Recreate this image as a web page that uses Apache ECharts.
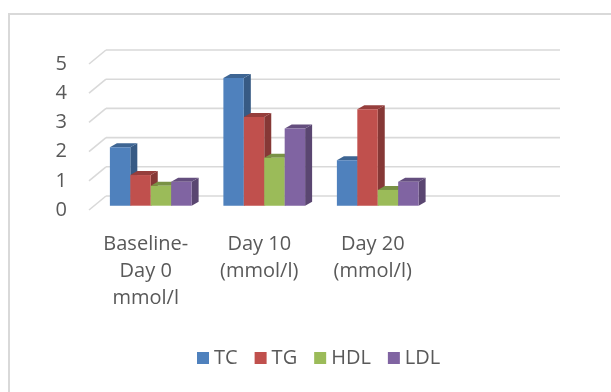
<!DOCTYPE html>
<html>
<head>
<meta charset="utf-8">
<script src="https://cdn.jsdelivr.net/npm/echarts@6/dist/echarts.min.js"></script>
<style>
  html, body { margin: 0; padding: 0; background: #fff; }
  #chart { width: 611px; height: 392px; }
</style>
</head>
<body>
<div id="chart"></div>
<script>
// Lipid profile by visit, mmol/l
const categories = ['Baseline-\nDay 0\nmmol/l', 'Day 10\n(mmol/l)', 'Day 20\n(mmol/l)', ''];
const seriesNames = ['TC', 'TG', 'HDL', 'LDL'];
const tcValues  = [2.0, 4.37, 1.56];
const tgValues  = [1.05, 3.04, 3.30];
const hdlValues = [0.68, 1.64, 0.54];
const ldlValues = [0.82, 2.64, 0.82];
const yTicks = [0, 1, 2, 3, 4, 5];

const seriesValues = [tcValues, tgValues, hdlValues, ldlValues];
const frontColors = ['#4f81bd', '#c0504d', '#9bbb59', '#8064a2'];

// depth of the wall behind the plot and of each column
const WALL_DX = 17, WALL_DY = -14;
const BAR_SHIFT_X = 5, BAR_SHIFT_Y = -4.3;
const BAR_DX = 7, BAR_DY = -4;

function shade(hex, f) {
  const n = parseInt(hex.slice(1), 16);
  const r = Math.round(((n >> 16) & 255) * f);
  const g = Math.round(((n >> 8) & 255) * f);
  const b = Math.round((n & 255) * f);
  return 'rgb(' + r + ',' + g + ',' + b + ')';
}

const chart = echarts.init(document.getElementById('chart'));

// wall grid lines and the slanted lines on the side wall
const wallSeries = {
  type: 'custom',
  silent: true,
  z: 1,
  data: yTicks.map(t => [0, t]),
  renderItem: function (params, api) {
    const cs = params.coordSys;
    const p = api.coord([0, api.value(1)]);
    const y = p[1];
    const style = { stroke: '#d9d9d9', lineWidth: 1.6, fill: null };
    return {
      type: 'group',
      children: [
        { type: 'line', shape: { x1: cs.x, y1: y, x2: cs.x + WALL_DX, y2: y + WALL_DY }, style: style },
        { type: 'line', shape: { x1: cs.x + WALL_DX, y1: y + WALL_DY, x2: cs.x + cs.width + WALL_DX, y2: y + WALL_DY }, style: style }
      ]
    };
  }
};

function barSeries(idx) {
  const color = frontColors[idx];
  return {
    name: seriesNames[idx],
    type: 'custom',
    z: 2,
    itemStyle: { color: color },
    data: seriesValues[idx].map((v, i) => [i, v]),
    renderItem: function (params, api) {
      const cat = api.value(0);
      const val = api.value(1);
      const top = api.coord([cat, val]);
      const base = api.coord([cat, 0]);
      const band = api.size([1, 0])[0];
      const bw = band * 0.18;
      const x0 = top[0] - 2 * bw + idx * bw + BAR_SHIFT_X;
      const yTop = top[1] + BAR_SHIFT_Y;
      const yBase = base[1] + BAR_SHIFT_Y;
      return {
        type: 'group',
        children: [
          {
            type: 'polygon',
            shape: { points: [[x0 + bw, yTop], [x0 + bw + BAR_DX, yTop + BAR_DY], [x0 + bw + BAR_DX, yBase + BAR_DY], [x0 + bw, yBase]] },
            style: { fill: shade(color, 0.7) }
          },
          {
            type: 'polygon',
            shape: { points: [[x0, yTop], [x0 + BAR_DX, yTop + BAR_DY], [x0 + bw + BAR_DX, yTop + BAR_DY], [x0 + bw, yTop]] },
            style: { fill: shade(color, 0.78) }
          },
          {
            type: 'rect',
            shape: { x: x0, y: yTop, width: bw, height: yBase - yTop },
            style: { fill: color }
          }
        ]
      };
    }
  };
}

const textColor = '#595959';
const fontFamily = '"Open Sans", Lato, sans-serif';

chart.setOption({
  animation: false,
  backgroundColor: '#ffffff',
  textStyle: { fontFamily: fontFamily },
  graphic: [{
    type: 'rect',
    shape: { x: 9, y: 14, width: 640, height: 420 },
    style: { fill: null, stroke: '#d9d9d9', lineWidth: 2 },
    silent: true
  }],
  grid: { left: 89, right: 68, top: 64, bottom: 182 },
  legend: {
    data: seriesNames,
    left: 192,
    top: 343,
    icon: 'rect',
    itemWidth: 12,
    itemHeight: 12,
    itemGap: 17,
    textStyle: { color: textColor, fontSize: 20, fontFamily: fontFamily }
  },
  xAxis: {
    type: 'category',
    data: categories,
    axisLine: { show: false },
    axisTick: { show: false },
    splitLine: { show: false },
    axisLabel: {
      color: textColor,
      fontSize: 20,
      lineHeight: 27,
      margin: 21,
      interval: 0,
      fontFamily: fontFamily
    }
  },
  yAxis: {
    type: 'value',
    min: 0,
    max: 5,
    interval: 1,
    axisLine: { show: false },
    axisTick: { show: false },
    splitLine: { show: false },
    axisLabel: { color: textColor, fontSize: 20, margin: 22, fontFamily: fontFamily }
  },
  series: [wallSeries].concat(seriesNames.map((n, i) => barSeries(i)))
});
</script>
</body>
</html>
